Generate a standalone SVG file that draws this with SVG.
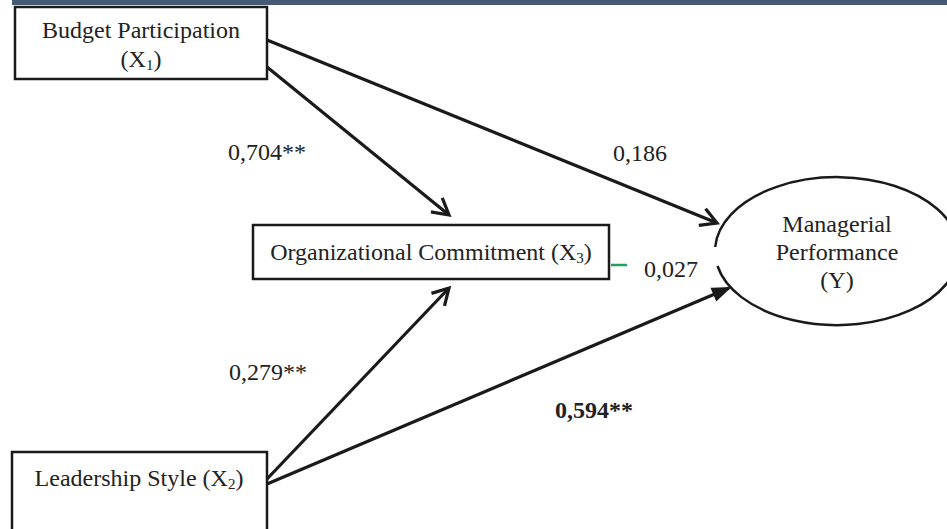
<svg xmlns="http://www.w3.org/2000/svg" width="947" height="529" viewBox="0 0 947 529">
<style>
.t{font-family:"Liberation Serif","Times New Roman",serif;font-size:24px;fill:#222}
.s{font-size:15px}
.box{fill:#fff;stroke:#1a1a1a;stroke-width:2.5}
.ln{stroke:#1a1a1a;stroke-width:3.2;fill:none}
</style>
<defs>
<marker id="ah" markerUnits="userSpaceOnUse" markerWidth="40" markerHeight="40" viewBox="-20 -20 40 40" refX="0" refY="0" orient="auto" overflow="visible">
<path d="M-16,-9 L0,0 L-16,9" fill="none" stroke="#1a1a1a" stroke-width="3.2"/>
</marker>
<marker id="ahf" markerUnits="userSpaceOnUse" markerWidth="40" markerHeight="40" viewBox="-20 -20 40 40" refX="0" refY="0" orient="auto" overflow="visible">
<path d="M-16,-6 L0,0 L-16,6 Z" fill="#1a1a1a" stroke="#1a1a1a" stroke-width="2"/>
</marker>
</defs>
<rect x="0" y="0" width="947" height="529" fill="#fff"/>
<rect x="12" y="0" width="935" height="5" fill="#475a73"/>
<g id="connectors">
<line class="ln" x1="267" y1="40" x2="717" y2="223" marker-end="url(#ah)"/>
<line class="ln" x1="267" y1="67" x2="449" y2="215" marker-end="url(#ah)"/>
<line class="ln" x1="267" y1="479" x2="449" y2="288" marker-end="url(#ah)"/>
<line class="ln" x1="267" y1="484" x2="729" y2="288" marker-end="url(#ahf)"/>
<line x1="611" y1="265" x2="627" y2="265" stroke="#1fa060" stroke-width="2.5"/>
</g>
<g id="x1">
<rect class="box" x="15" y="7" width="252" height="72"/>
<text class="t" x="141" y="38" text-anchor="middle">Budget Participation</text>
<text class="t" x="141" y="67" text-anchor="middle">(X<tspan class="s" dy="3">1</tspan><tspan dy="-3">)</tspan></text>
</g>
<g id="x3">
<rect class="box" x="253" y="225" width="356" height="54"/>
<text class="t" x="431" y="260" text-anchor="middle">Organizational Commitment (X<tspan class="s" dy="3">3</tspan><tspan dy="-3">)</tspan></text>
</g>
<g id="x2">
<rect class="box" x="12" y="452" width="255" height="90"/>
<text class="t" x="139" y="486" text-anchor="middle">Leadership Style (X<tspan class="s" dy="3">2</tspan><tspan dy="-3">)</tspan></text>
</g>
<g id="y">
<path d="M717.5,266 A122,74 0 1 0 715.2,247" fill="#fff" stroke="#1a1a1a" stroke-width="2.5"/>
<text class="t" x="837" y="232" text-anchor="middle">Managerial</text>
<text class="t" x="837" y="260" text-anchor="middle">Performance</text>
<text class="t" x="837" y="288" text-anchor="middle">(Y)</text>
</g>
<g id="labels">
<text class="t" x="228" y="160">0,704**</text>
<text class="t" x="613" y="161">0,186</text>
<text class="t" x="644" y="277">0,027</text>
<text class="t" x="229" y="380">0,279**</text>
<text class="t" x="555" y="418" font-weight="bold">0,594**</text>
</g>
</svg>
